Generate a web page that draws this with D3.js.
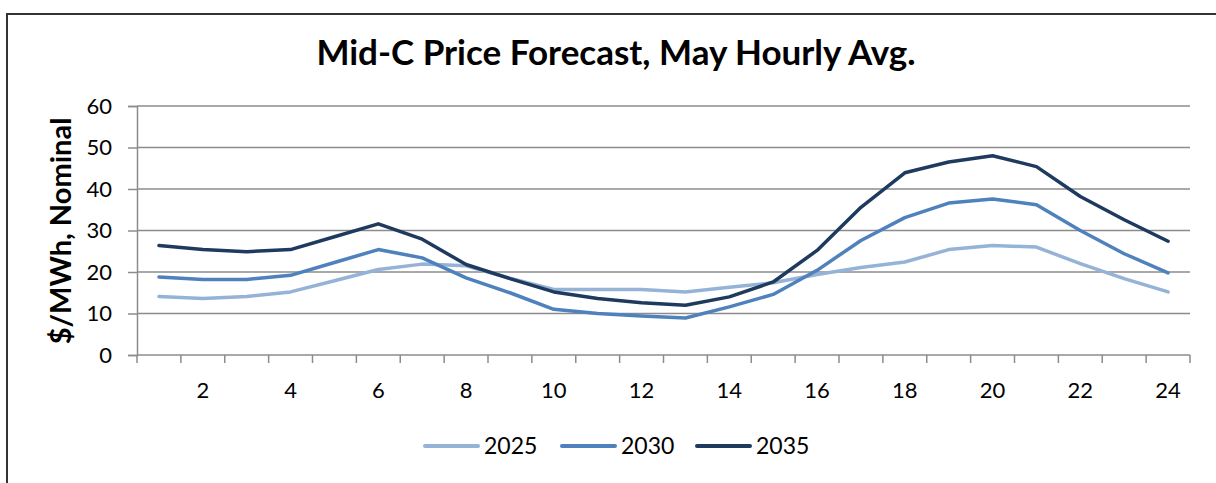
<!DOCTYPE html>
<html>
<head>
<meta charset="utf-8">
<script src="https://cdn.jsdelivr.net/npm/d3@7"></script>
<style>
  body { margin: 0; background: #fff; }
  svg { display: block; font-family: Lato, "Open Sans", sans-serif; }
</style>
</head>
<body>
<svg id="chart" width="1216" height="483"></svg>
<script>
const hours = d3.range(1, 25)
const yTicks = [0, 10, 20, 30, 40, 50, 60]
const seriesNames = ['2025', '2030', '2035']
const y2025 = [14.1, 13.6, 14.1, 15.2, 17.9, 20.6, 21.9, 21.5, 18.5, 15.8, 15.8, 15.8, 15.2, 16.3, 17.4, 19.4, 21.1, 22.4, 25.4, 26.4, 26.0, 22.0, 18.4, 15.2]
const y2030 = [18.8, 18.2, 18.2, 19.2, 22.3, 25.4, 23.4, 18.6, 15.0, 11.0, 10.0, 9.4, 8.9, 11.6, 14.6, 20.4, 27.6, 33.1, 36.6, 37.6, 36.2, 30.0, 24.4, 19.8]
const y2035 = [26.4, 25.4, 24.9, 25.4, 28.5, 31.6, 27.9, 21.8, 18.4, 15.2, 13.6, 12.6, 12.0, 14.0, 17.6, 25.2, 35.6, 43.9, 46.5, 48.0, 45.4, 38.2, 32.6, 27.4]
const colors = ['#95b3d7', '#4f81bd', '#1f3a5f']

const margin = { top: 106, right: 26, bottom: 128, left: 137 }
const width = 1216 - margin.left - margin.right
const height = 483 - margin.top - margin.bottom

const svg = d3.select('#chart')

// outer frame
svg.append('rect')
    .attr('x', 7).attr('y', 14)
    .attr('width', 1230).attr('height', 490)
    .attr('fill', 'none')
    .attr('stroke', '#333')
    .attr('stroke-width', 2)

svg.append('text')
    .attr('x', 616).attr('y', 65)
    .attr('text-anchor', 'middle')
    .attr('font-size', 35)
    .attr('font-weight', 'bold')
    .attr('fill', '#000')
    .text('Mid-C Price Forecast, May Hourly Avg.')

const g = svg.append('g')
    .attr('transform', `translate(${margin.left},${margin.top})`)

const x = d3.scaleBand()
    .domain(hours)
    .range([0, width])

const y = d3.scaleLinear()
    .domain([0, 60])
    .range([height, 0])

// gridlines
g.selectAll('.grid')
    .data(yTicks.filter(d => d > 0))
    .enter()
    .append('line')
    .attr('x1', 0).attr('x2', width)
    .attr('y1', d => y(d)).attr('y2', d => y(d))
    .attr('stroke', '#8c8c8c')
    .attr('stroke-width', 1.5)

const yAxis = g.append('g')
    .call(d3.axisLeft(y).tickValues(yTicks).tickSize(9).tickPadding(16))
yAxis.select('.domain').attr('stroke', '#8c8c8c').attr('stroke-width', 1.5)
yAxis.selectAll('line').attr('stroke', '#8c8c8c').attr('stroke-width', 1.5)
yAxis.selectAll('text').attr('font-size', 22).attr('fill', '#000')
    .attr('font-family', 'Lato, sans-serif')

// x axis: ticks at category boundaries, labels at every other category
const xg = g.append('g').attr('transform', `translate(0,${height})`)
xg.append('line')
    .attr('x1', 0).attr('x2', width)
    .attr('stroke', '#8c8c8c').attr('stroke-width', 1.5)
xg.selectAll('.tick')
    .data(d3.range(0, 25))
    .enter()
    .append('line')
    .attr('x1', i => i === 24 ? width : x(hours[i]))
    .attr('x2', i => i === 24 ? width : x(hours[i]))
    .attr('y1', 0).attr('y2', 8)
    .attr('stroke', '#8c8c8c').attr('stroke-width', 1.5)
xg.selectAll('.lbl')
    .data(hours.filter(h => h % 2 === 0))
    .enter()
    .append('text')
    .attr('x', d => x(d) + x.bandwidth() / 2)
    .attr('y', 43)
    .attr('text-anchor', 'middle')
    .attr('font-size', 22)
    .attr('fill', '#000')
    .text(d => d)

svg.append('text')
    .attr('transform', 'translate(71,231) rotate(-90)')
    .attr('text-anchor', 'middle')
    .attr('font-size', 29)
    .attr('font-weight', 'bold')
    .text('$/MWh, Nominal')

const line = d3.line()
    .x((d, i) => x(hours[i]) + x.bandwidth() / 2)
    .y(d => y(d))

const seriesData = [y2025, y2030, y2035]
g.selectAll('.series')
    .data(seriesData)
    .enter()
    .append('path')
    .attr('d', d => line(d))
    .attr('fill', 'none')
    .attr('stroke', (d, i) => colors[i])
    .attr('stroke-width', 3.5)
    .attr('stroke-linejoin', 'round')
    .attr('stroke-linecap', 'round')

// legend
const legendX = [425, 562, 697]
const legend = svg.append('g')
seriesNames.forEach((name, i) => {
    legend.append('line')
        .attr('x1', legendX[i]).attr('x2', legendX[i] + 53)
        .attr('y1', 446).attr('y2', 446)
        .attr('stroke', colors[i])
        .attr('stroke-width', 4)
        .attr('stroke-linecap', 'round')
    legend.append('text')
        .attr('x', legendX[i] + 59)
        .attr('y', 454)
        .attr('font-size', 23)
        .attr('fill', '#000')
        .text(name)
})
</script>
</body>
</html>
